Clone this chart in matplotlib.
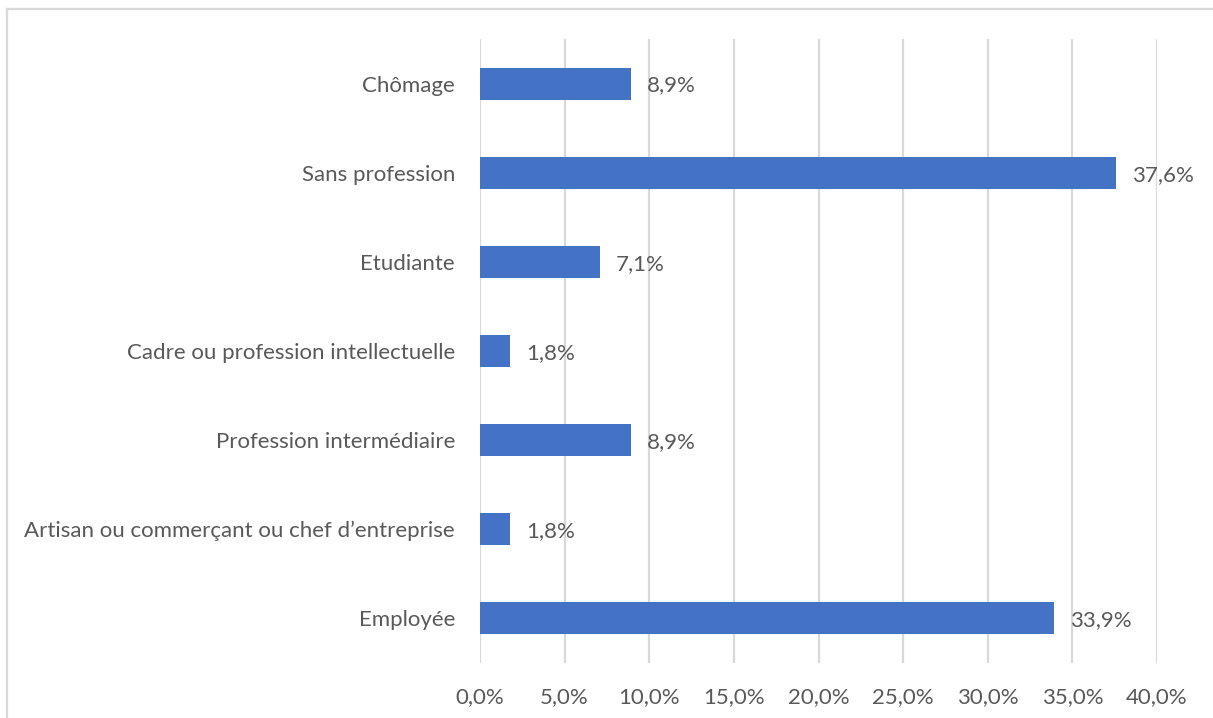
import matplotlib.pyplot as plt
from matplotlib.lines import Line2D

categories = [
    'Employée',
    'Artisan ou commerçant ou chef d\u2019entreprise',
    'Profession intermédiaire',
    'Cadre ou profession intellectuelle',
    'Etudiante',
    'Sans profession',
    'Chômage',
]
values = [33.9, 1.8, 8.9, 1.8, 7.1, 37.6, 8.9]
xticks = [0, 5, 10, 15, 20, 25, 30, 35, 40]

plt.rcParams['font.family'] = ['Lato', 'DejaVu Sans']
text_color = '#595959'
bar_color = '#4472c4'
grid_color = '#d9d9d9'

fig = plt.figure(figsize=(12.13, 7.18), dpi=100)
ax = fig.add_axes([480 / 1213, 55 / 718, 677 / 1213, 624 / 718])

pos = list(range(len(categories)))
ax.barh(pos, values, height=0.36, color=bar_color, zorder=3)

for p, v in zip(pos, values):
    ax.annotate(f'{v:.1f}%'.replace('.', ','), xy=(v, p), xytext=(16, -2),
                textcoords='offset pixels', va='center', ha='left',
                fontsize=16, color=text_color)

ax.set_xlim(0, 40)
ax.set_ylim(-0.5, len(categories) - 0.5)
ax.set_xticks(xticks)
ax.set_xticklabels([f'{t:.1f}%'.replace('.', ',') for t in xticks])
ax.set_yticks(pos)
ax.set_yticklabels(categories)
ax.tick_params(axis='both', length=0, labelsize=16, labelcolor=text_color)
ax.tick_params(axis='x', pad=17)
ax.tick_params(axis='y', pad=18)

ax.grid(axis='x', color=grid_color, linewidth=1.6, zorder=0)
for s in ax.spines.values():
    s.set_visible(False)

# chart area border (top and left visible)
fig.add_artist(Line2D([7 / 1213, 7 / 1213], [0, 1 - 9 / 718], transform=fig.transFigure,
                      color=grid_color, linewidth=1.6))
fig.add_artist(Line2D([7 / 1213, 1], [1 - 9 / 718, 1 - 9 / 718], transform=fig.transFigure,
                      color=grid_color, linewidth=1.6))

fig.savefig('out.png', dpi=100)
